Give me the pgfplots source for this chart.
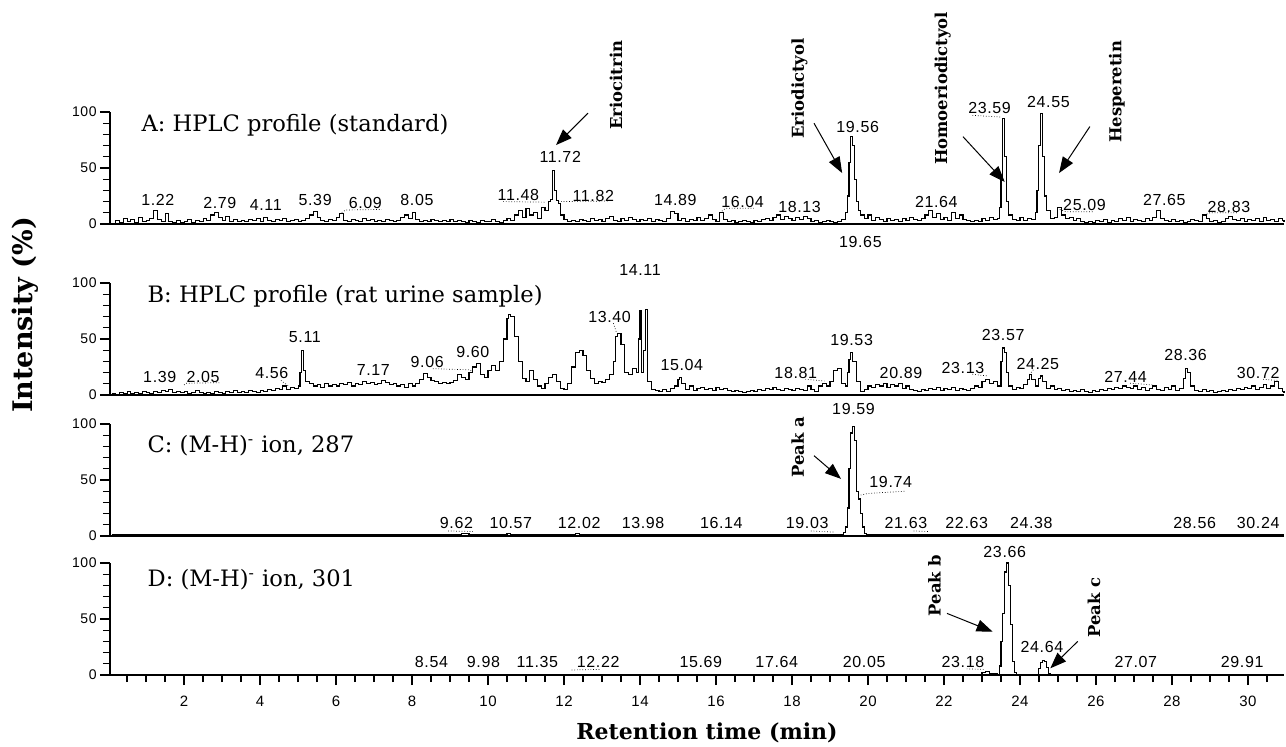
\documentclass[border=0pt]{standalone}
\usepackage{fontspec}
\setmainfont{DejaVu Serif}
\newfontfamily\numfont[LetterSpace=4]{Liberation Sans}
\usepackage{pgfplots}
\pgfplotsset{compat=1.18}
\usetikzlibrary{arrows.meta}
\tikzset{
  pk/.style={font=\numfont\fontsize{8}{9}\selectfont, inner sep=0pt},
  nm/.style={rotate=90, font=\bfseries\fontsize{8.2}{9}\selectfont, inner sep=0pt},
  ar/.style={-{Triangle[length=8pt,width=6pt]}, line width=0.5pt},
  ld/.style={line width=0.35pt, densely dotted},
  tt/.style={anchor=west, font=\fontsize{11.3}{12}\selectfont, inner sep=0pt},
  tr/.style={const plot, black, line width=0.55pt},
}
\pgfplotsset{panel/.style={
  scale only axis, width=587pt, height=56pt,
  xmin=0.05, xmax=30.95, ymin=0, ymax=100,
  axis x line=bottom, axis y line=left, axis line style={-, line width=0.9pt},
  ytick={0,50,100}, minor y tick num=4, tick align=outside,
  major tick length=5pt, minor tick length=3.5pt,
  tick style={line width=0.6pt, black},
  yticklabel style={font=\numfont\fontsize{7}{8}\selectfont, inner sep=1.5pt},
  xticklabel style={font=\numfont\fontsize{7.5}{8}\selectfont, yshift=-2pt},
  /pgf/number format/assume math mode=true,
  clip=false, xtick=\empty, anchor=south west}}
\begin{document}
\begin{tikzpicture}
\useasboundingbox (0,0) rectangle (643pt,373pt);
% ---------------- Panel A
\begin{axis}[panel, at={(55pt,261pt)}]
\addplot[tr] coordinates {
(0.1,0) (0.2,3) (0.3,1) (0.4,5) (0.5,2) (0.6,4) (0.7,1) (0.8,6) (0.9,2) (1.0,3) (1.1,5) (1.2,12) (1.3,4) (1.4,2) (1.5,9) (1.6,2) (1.7,1) (1.8,3) (1.9,1) (2.0,2)
(2.1,4) (2.2,1) (2.3,3) (2.4,2) (2.5,5) (2.6,3) (2.7,8) (2.8,10) (2.9,6) (3.0,3) (3.1,7) (3.2,2) (3.3,4) (3.4,2) (3.5,3) (3.6,2) (3.7,4) (3.8,3) (3.9,5) (4.0,2)
(4.1,6) (4.2,3) (4.3,2) (4.4,4) (4.5,3) (4.6,5) (4.7,2) (4.8,3) (4.9,4) (5.0,2) (5.1,3) (5.2,5) (5.3,8) (5.4,11) (5.5,6) (5.6,3) (5.7,2) (5.8,4) (5.9,3) (6.0,6)
(6.1,9) (6.2,3) (6.3,2) (6.4,4) (6.5,3) (6.6,2) (6.7,5) (6.8,3) (6.9,4) (7.0,2) (7.1,3) (7.2,2) (7.3,4) (7.4,3) (7.5,2) (7.6,3) (7.7,6) (7.8,8) (7.9,5) (8.0,10)
(8.1,4) (8.2,2) (8.3,3) (8.4,2) (8.5,4) (8.6,3) (8.7,2) (8.8,3) (8.9,2) (9.0,4) (9.1,2) (9.2,3) (9.3,2) (9.4,1) (9.5,3) (9.6,2) (9.7,1) (9.8,3) (9.9,2) (10.0,2)
(10.1,4) (10.2,2) (10.3,1) (10.4,3) (10.5,5) (10.6,3) (10.7,8) (10.8,12) (10.9,6) (11.0,14) (11.1,8) (11.2,10) (11.3,5) (11.4,15) (11.5,12) (11.6,20) (11.65,22) (11.7,48) (11.75,30) (11.8,21)
(11.85,18) (11.9,8) (12.0,4) (12.1,2) (12.2,3) (12.3,2) (12.4,4) (12.5,3) (12.6,2) (12.7,5) (12.8,3) (12.9,4) (13.0,2) (13.1,5) (13.2,7) (13.3,3) (13.4,2) (13.5,5) (13.6,3) (13.7,6)
(13.8,4) (13.9,2) (14.0,4) (14.1,3) (14.2,5) (14.3,2) (14.4,4) (14.5,3) (14.6,2) (14.7,5) (14.8,11) (14.9,9) (15.0,3) (15.1,5) (15.2,2) (15.3,4) (15.4,3) (15.5,6) (15.6,3) (15.7,5)
(15.8,8) (15.9,4) (16.0,2) (16.1,10) (16.2,4) (16.3,2) (16.4,3) (16.5,1) (16.6,2) (16.7,3) (16.8,2) (16.9,1) (17.0,3) (17.1,2) (17.2,4) (17.3,5) (17.4,3) (17.5,6) (17.6,8) (17.7,4)
(17.8,7) (17.9,5) (18.0,3) (18.1,6) (18.2,4) (18.3,7) (18.4,5) (18.5,2) (18.6,3) (18.7,1) (18.8,2) (18.9,3) (19.0,2) (19.1,1) (19.2,2) (19.3,4) (19.4,10) (19.45,25) (19.5,55) (19.55,78)
(19.6,70) (19.65,40) (19.7,20) (19.75,12) (19.8,8) (19.9,5) (20.0,8) (20.1,3) (20.2,6) (20.3,4) (20.4,2) (20.5,5) (20.6,3) (20.7,4) (20.8,2) (20.9,5) (21.0,3) (21.1,6) (21.2,4) (21.3,3)
(21.4,5) (21.5,8) (21.6,12) (21.7,6) (21.8,9) (21.9,4) (22.0,6) (22.1,3) (22.2,10) (22.3,5) (22.4,8) (22.5,4) (22.6,3) (22.7,2) (22.8,3) (22.9,2) (23.0,5) (23.1,3) (23.2,6) (23.3,4)
(23.4,5) (23.45,15) (23.5,40) (23.55,94) (23.6,60) (23.65,20) (23.7,8) (23.8,4) (23.9,3) (24.0,6) (24.1,3) (24.2,5) (24.3,4) (24.4,10) (24.45,30) (24.5,70) (24.55,99) (24.6,60) (24.65,25) (24.7,12)
(24.8,5) (24.9,6) (25.0,15) (25.1,8) (25.2,5) (25.3,6) (25.4,3) (25.5,5) (25.6,2) (25.7,1) (25.8,2) (25.9,1) (26.0,3) (26.1,2) (26.2,4) (26.3,1) (26.4,3) (26.5,2) (26.6,5) (26.7,3)
(26.8,6) (26.9,2) (27.0,4) (27.1,3) (27.2,2) (27.3,5) (27.4,3) (27.5,6) (27.6,12) (27.7,5) (27.8,3) (27.9,2) (28.0,4) (28.1,2) (28.2,3) (28.3,1) (28.4,2) (28.5,4) (28.6,3) (28.7,2)
(28.8,8) (28.9,5) (29.0,2) (29.1,3) (29.2,1) (29.3,2) (29.4,5) (29.5,7) (29.6,4) (29.7,3) (29.8,5) (29.9,2) (30.0,4) (30.1,3) (30.2,5) (30.3,2) (30.4,6) (30.5,3) (30.6,4) (30.7,2)
(30.8,5) (30.9,3) (30.95,2)};
\node[tt] at (0.87,88) {A: HPLC profile (standard)};
\node[pk] at (1.31,21.4) {1.22};
\node[pk] at (2.94,18.8) {2.79};
\node[pk] at (4.15,17) {4.11};
\node[pk] at (5.45,21.4) {5.39};
\node[pk] at (6.77,18.8) {6.09};
\node[pk] at (8.13,21.4) {8.05};
\node[pk] at (10.8,26) {11.48};
\node[pk] at (11.9,60) {11.72};
\node[pk] at (12.77,25) {11.82};
\node[pk] at (14.93,21.4) {14.89};
\node[pk] at (16.7,19.6) {16.04};
\node[pk] at (18.2,15) {18.13};
\node[pk] at (19.73,86.6) {19.56};
\node[pk] at (19.8,-16) {19.65};
\node[pk] at (21.8,19.6) {21.64};
\node[pk] at (23.2,104) {23.59};
\node[pk] at (24.75,109) {24.55};
\node[pk] at (25.7,17) {25.09};
\node[pk] at (27.8,21.4) {27.65};
\node[pk] at (29.5,15.5) {28.83};
\draw[ld] (6.09,9) -- (6.25,12.5) -- (7.2,13);
\draw[ld] (10.4,20) -- (11.5,19.5);
\draw[ld] (11.85,20) -- (13.2,20.5);
\draw[ld] (16.1,10) -- (16.25,14) -- (17.0,14);
\draw[ld] (22.75,97) -- (23.5,95.5);
\draw[ld] (25.05,13) -- (25.2,11) -- (25.95,11);
\draw[ld] (28.85,8) -- (29.0,10) -- (29.75,10);
\node[nm] at (13.37,124) {Eriocitrin};
\node[nm] at (18.2,121) {Eriodictyol};
\node[nm] at (21.97,121) {Homoeriodictyol};
\node[nm] at (26.55,118) {Hesperetin};
\draw[ar] (12.63,99) -- (11.79,70.5);
\draw[ar] (18.58,90) -- (19.32,45.5);
\draw[ar] (22.5,78) -- (23.6,37.5);
\draw[ar] (25.84,87) -- (25.03,45.5);
\end{axis}
% ---------------- Panel B
\begin{axis}[panel, at={(55pt,175.5pt)}]
\addplot[tr] coordinates {
(0.1,1) (0.2,0) (0.3,2) (0.4,1) (0.5,3) (0.6,1) (0.7,2) (0.8,1) (0.9,3) (1.0,2) (1.1,1) (1.2,3) (1.3,2) (1.4,4) (1.5,3) (1.6,5) (1.7,2) (1.8,3) (1.9,2) (2.0,3)
(2.1,1) (2.2,2) (2.3,4) (2.4,2) (2.5,1) (2.6,2) (2.7,1) (2.8,3) (2.9,2) (3.0,1) (3.1,3) (3.2,2) (3.3,4) (3.4,2) (3.5,3) (3.6,2) (3.7,4) (3.8,3) (3.9,2) (4.0,4)
(4.1,3) (4.2,5) (4.3,4) (4.4,6) (4.5,5) (4.6,8) (4.7,5) (4.8,7) (4.9,6) (5.0,8) (5.05,20) (5.1,40) (5.15,22) (5.2,12) (5.3,10) (5.4,8) (5.5,9) (5.6,7) (5.7,10) (5.8,8)
(5.9,9) (6.0,8) (6.1,10) (6.2,9) (6.3,11) (6.4,8) (6.5,10) (6.6,9) (6.7,12) (6.8,10) (6.9,11) (7.0,9) (7.1,10) (7.2,13) (7.3,11) (7.4,9) (7.5,10) (7.6,8) (7.7,9) (7.8,7)
(7.9,10) (8.0,8) (8.1,10) (8.2,14) (8.3,19) (8.4,16) (8.5,13) (8.6,12) (8.7,10) (8.8,11) (8.9,10) (9.0,11) (9.1,13) (9.2,18) (9.3,16) (9.4,14) (9.5,20) (9.6,25) (9.7,28) (9.8,18)
(9.9,16) (10.0,22) (10.1,26) (10.2,22) (10.3,30) (10.4,50) (10.5,68) (10.55,72) (10.6,70) (10.7,52) (10.8,30) (10.9,15) (11.0,12) (11.1,22) (11.2,14) (11.3,8) (11.4,6) (11.5,10) (11.6,16) (11.7,18)
(11.8,12) (11.9,6) (12.0,5) (12.1,10) (12.2,25) (12.3,38) (12.4,40) (12.5,35) (12.6,22) (12.7,15) (12.8,10) (12.9,12) (13.0,11) (13.1,14) (13.2,18) (13.3,30) (13.35,52) (13.4,55) (13.5,45) (13.6,20)
(13.7,18) (13.8,24) (13.9,20) (13.95,50) (14.0,75) (14.05,20) (14.1,40) (14.15,76) (14.2,12) (14.3,5) (14.4,4) (14.5,3) (14.6,5) (14.7,3) (14.8,6) (14.9,8) (15.0,14) (15.05,16) (15.1,10) (15.2,5)
(15.3,8) (15.4,4) (15.5,6) (15.6,7) (15.7,5) (15.8,6) (15.9,4) (16.0,7) (16.1,5) (16.2,6) (16.3,4) (16.4,3) (16.5,4) (16.6,3) (16.7,2) (16.8,3) (16.9,4) (17.0,3) (17.1,5) (17.2,4)
(17.3,6) (17.4,5) (17.5,7) (17.6,5) (17.7,4) (17.8,6) (17.9,5) (18.0,4) (18.1,6) (18.2,5) (18.3,4) (18.4,8) (18.5,5) (18.6,3) (18.7,8) (18.8,10) (18.9,8) (19.0,12) (19.1,22) (19.2,24)
(19.3,10) (19.4,8) (19.45,20) (19.5,32) (19.55,38) (19.6,30) (19.7,12) (19.8,3) (19.9,5) (20.0,8) (20.1,7) (20.2,9) (20.3,8) (20.4,10) (20.5,7) (20.6,9) (20.7,8) (20.8,10) (20.9,6) (21.0,8)
(21.1,5) (21.2,4) (21.3,3) (21.4,5) (21.5,4) (21.6,6) (21.7,5) (21.8,7) (21.9,4) (22.0,6) (22.1,5) (22.2,7) (22.3,4) (22.4,6) (22.5,5) (22.6,4) (22.7,6) (22.8,8) (22.9,7) (23.0,12)
(23.1,14) (23.2,10) (23.3,12) (23.4,8) (23.5,30) (23.55,42) (23.6,38) (23.65,20) (23.7,8) (23.8,5) (23.9,7) (24.0,6) (24.1,9) (24.2,14) (24.25,18) (24.3,14) (24.4,8) (24.5,15) (24.55,17) (24.6,12)
(24.7,6) (24.8,8) (24.9,5) (25.0,6) (25.1,4) (25.2,5) (25.3,3) (25.4,4) (25.5,3) (25.6,5) (25.7,3) (25.8,2) (25.9,4) (26.0,3) (26.1,5) (26.2,4) (26.3,6) (26.4,5) (26.5,7) (26.6,6)
(26.7,8) (26.8,7) (26.9,6) (27.0,8) (27.1,5) (27.2,7) (27.3,4) (27.4,6) (27.5,8) (27.6,5) (27.7,4) (27.8,7) (27.9,5) (28.0,8) (28.1,4) (28.2,6) (28.3,15) (28.35,24) (28.4,20) (28.5,8)
(28.6,4) (28.7,3) (28.8,5) (28.9,3) (29.0,4) (29.1,2) (29.2,3) (29.3,4) (29.4,3) (29.5,5) (29.6,4) (29.7,6) (29.8,5) (29.9,7) (30.0,6) (30.1,8) (30.2,5) (30.3,7) (30.4,9) (30.5,6)
(30.6,8) (30.7,12) (30.8,6) (30.9,3) (30.95,2)};
\node[tt] at (1.03,88) {B: HPLC profile (rat urine sample)};
\node[pk] at (1.36,16.4) {1.39};
\node[pk] at (2.5,16.4) {2.05};
\node[pk] at (4.31,19.6) {4.56};
\node[pk] at (5.18,52) {5.11};
\node[pk] at (6.98,22.3) {7.17};
\node[pk] at (8.4,29.8) {9.06};
\node[pk] at (9.6,38.7) {9.60};
\node[pk] at (13.2,70) {13.40};
\node[pk] at (14.0,111.6) {14.11};
\node[pk] at (15.1,27) {15.04};
\node[pk] at (18.1,20) {18.81};
\node[pk] at (19.57,49) {19.53};
\node[pk] at (20.87,20) {20.89};
\node[pk] at (22.5,24) {23.13};
\node[pk] at (23.56,54) {23.57};
\node[pk] at (24.47,28) {24.25};
\node[pk] at (26.78,16) {27.44};
\node[pk] at (28.36,36) {28.36};
\node[pk] at (30.27,20) {30.72};
\draw[ld] (2.0,9) -- (2.05,10.5) -- (2.95,11);
\draw[ld] (4.55,13) -- (4.75,8);
\draw[ld] (8.55,23.5) -- (9.5,22.5) -- (9.6,21);
\draw[ld] (13.3,64) -- (13.38,56);
\draw[ld] (18.35,14) -- (18.85,12.5);
\draw[ld] (22.75,18.5) -- (23.15,17);
\draw[ld] (24.35,22.5) -- (24.25,18);
\draw[ld] (26.9,10.5) -- (27.5,9);
\draw[ld] (30.4,14) -- (30.8,13);
\end{axis}
% ---------------- Panel C
\begin{axis}[panel, at={(55pt,105pt)}]
\addplot[tr] coordinates {
(0.1,1.5) (9.0,1.5) (9.3,2.2) (9.5,1.5) (10.5,2.5) (10.6,1.5) (12.3,2) (12.4,1.5) (19.3,1.5) (19.35,3) (19.4,8) (19.45,25) (19.5,60) (19.55,92) (19.6,98)
(19.65,85) (19.7,40) (19.75,33) (19.8,20) (19.85,8) (19.9,2) (19.95,1.5) (30.95,1.5)};
\node[tt] at (1.03,80.5) {C: (M-H)\textsuperscript{-} ion, 287};
\node[pk] at (9.17,11.5) {9.62};
\node[pk] at (10.6,11.5) {10.57};
\node[pk] at (12.4,11.5) {12.02};
\node[pk] at (14.08,11.5) {13.98};
\node[pk] at (16.14,11.5) {16.14};
\node[pk] at (18.4,11.5) {19.03};
\node[pk] at (19.62,113) {19.59};
\node[pk] at (20.6,48) {19.74};
\node[pk] at (21.0,11.5) {21.63};
\node[pk] at (22.6,11.5) {22.63};
\node[pk] at (24.3,11.5) {24.38};
\node[pk] at (28.6,11.5) {28.56};
\node[pk] at (30.27,11.5) {30.24};
\draw[ld] (8.95,4.5) -- (9.6,4);
\draw[ld] (18.5,4.5) -- (19.1,3.5);
\draw[ld] (19.74,36) -- (20.0,38) -- (21.0,40);
\draw[ld] (21.2,4.5) -- (21.6,4);
\node[nm] at (18.15,79) {Peak a};
\draw[ar] (18.58,71.7) -- (19.29,51);
\end{axis}
% ---------------- Panel D
\begin{axis}[panel, at={(55pt,35.5pt)}, xtick={2,4,...,30}, minor xtick={0.5,1,...,30.5}]
\addplot[tr] coordinates {
(0.1,0.3) (5,0.5) (8,0.3) (8.5,0.6) (9,0.3) (12,0.5) (12.8,0.8) (13,0.3) (15.5,0.6) (16,0.3) (22.8,0.5) (23.0,2) (23.1,3) (23.2,1) (23.4,0.5) (23.45,8) (23.5,30) (23.55,55)
(23.6,92) (23.65,100) (23.7,80) (23.75,45) (23.8,12) (23.85,2) (23.9,0.5) (24.45,0.5) (24.5,6) (24.55,11) (24.6,13) (24.65,12) (24.7,7) (24.75,1) (24.8,0.5) (30.95,0.5)};
\node[tt] at (1.03,85) {D: (M-H)\textsuperscript{-} ion, 301};
\node[pk] at (8.51,11.5) {8.54};
\node[pk] at (9.88,11.5) {9.98};
\node[pk] at (11.3,11.5) {11.35};
\node[pk] at (12.9,11.5) {12.22};
\node[pk] at (15.6,11.5) {15.69};
\node[pk] at (17.6,11.5) {17.64};
\node[pk] at (19.9,11.5) {20.05};
\node[pk] at (22.5,11.5) {23.18};
\node[pk] at (23.6,110) {23.66};
\node[pk] at (24.58,25) {24.64};
\node[pk] at (27.05,11.5) {27.07};
\node[pk] at (29.85,11.5) {29.91};
\draw[ld] (12.2,4.5) -- (12.95,5);
\draw[ld] (22.6,5.5) -- (23.05,5);
\node[nm] at (21.75,80) {Peak b};
\draw[ar] (22.08,55) -- (23.28,38.7);
\node[nm] at (25.95,60) {Peak c};
\draw[ar] (25.52,30) -- (24.8,6);
\end{axis}
\node[rotate=90, font=\bfseries\fontsize{13.5}{15}\selectfont] at (12.5pt,215.5pt) {Intensity (\%)};
\node[font=\bfseries\fontsize{11}{13}\selectfont] at (353.5pt,6.5pt) {Retention time (min)};
\end{tikzpicture}
\end{document}
